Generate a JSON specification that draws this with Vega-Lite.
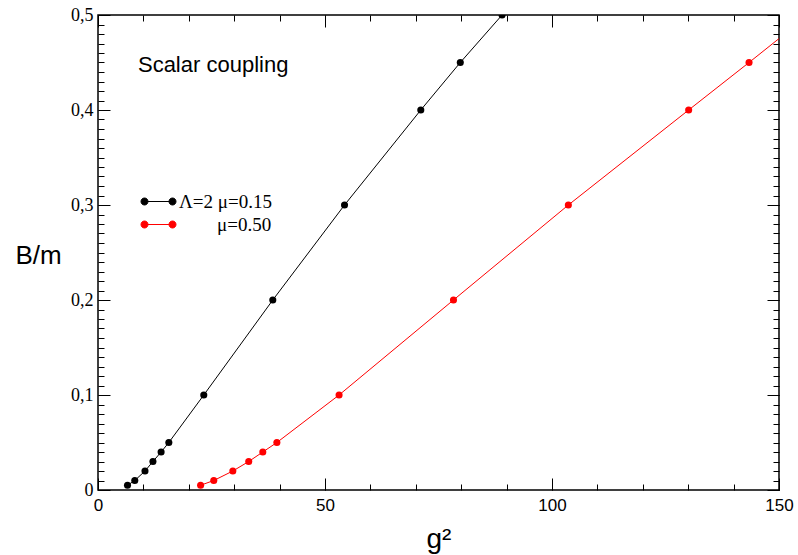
{
  "$schema": "https://vega.github.io/schema/vega-lite/v6.json",
  "autosize": "none",
  "width": 681,
  "height": 475,
  "padding": {"left": 98, "top": 15, "right": 19, "bottom": 65},
  "background": "white",
  "config": {
    "view": {"stroke": "black", "strokeWidth": 1.5},
    "axis": {"grid": false, "domain": false, "labelOverlap": false, "labelFlush": false, "tickColor": "black", "tickWidth": 1, "ticks": true, "labelColor": "black", "titleColor": "black"}
  },
  "data": {"values": [
    {"g2": 6.5, "B": 0.005, "series": "Λ=2 μ=0.15"},
    {"g2": 8.1, "B": 0.01, "series": "Λ=2 μ=0.15"},
    {"g2": 10.35, "B": 0.02, "series": "Λ=2 μ=0.15"},
    {"g2": 12.1, "B": 0.03, "series": "Λ=2 μ=0.15"},
    {"g2": 13.9, "B": 0.04, "series": "Λ=2 μ=0.15"},
    {"g2": 15.6, "B": 0.05, "series": "Λ=2 μ=0.15"},
    {"g2": 23.3, "B": 0.1, "series": "Λ=2 μ=0.15"},
    {"g2": 38.5, "B": 0.2, "series": "Λ=2 μ=0.15"},
    {"g2": 54.3, "B": 0.3, "series": "Λ=2 μ=0.15"},
    {"g2": 71.1, "B": 0.4, "series": "Λ=2 μ=0.15"},
    {"g2": 79.8, "B": 0.45, "series": "Λ=2 μ=0.15"},
    {"g2": 89.0, "B": 0.5, "series": "Λ=2 μ=0.15"},
    {"g2": 22.6, "B": 0.005, "series": "μ=0.50"},
    {"g2": 25.5, "B": 0.01, "series": "μ=0.50"},
    {"g2": 29.7, "B": 0.02, "series": "μ=0.50"},
    {"g2": 33.2, "B": 0.03, "series": "μ=0.50"},
    {"g2": 36.3, "B": 0.04, "series": "μ=0.50"},
    {"g2": 39.4, "B": 0.05, "series": "μ=0.50"},
    {"g2": 53.1, "B": 0.1, "series": "μ=0.50"},
    {"g2": 78.3, "B": 0.2, "series": "μ=0.50"},
    {"g2": 103.6, "B": 0.3, "series": "μ=0.50"},
    {"g2": 130.1, "B": 0.4, "series": "μ=0.50"},
    {"g2": 143.4, "B": 0.45, "series": "μ=0.50"},
    {"g2": 156.5, "B": 0.5, "series": "μ=0.50"}
  ]},
  "resolve": {"axis": {"x": "independent", "y": "independent"}},
  "layer": [
    {
      "mark": {"type": "line", "strokeWidth": 1, "clip": true},
      "encoding": {
        "x": {"field": "g2", "type": "quantitative",
          "scale": {"domain": [0, 150], "nice": false, "zero": false},
          "axis": {"orient": "bottom", "values": [0,50,100,150], "ticks": false,
            "labelFont": "Liberation Sans", "labelFontSize": 17, "labelPadding": 7,
            "title": "g²", "titleFont": "Liberation Sans", "titleFontSize": 28, "titleFontWeight": "normal",
            "titleBaseline": "alphabetic", "titleY": 57}},
        "y": {"field": "B", "type": "quantitative",
          "scale": {"domain": [0, 0.5], "nice": false, "zero": false},
          "axis": {"orient": "left", "values": [0,0.1,0.2,0.3,0.4,0.5], "ticks": false,
            "format": ".1~f",
            "labelExpr": "replace(datum.label, '.', ',')",
            "labelFont": "Liberation Serif", "labelFontSize": 18, "labelPadding": 5,
            "title": "B/m", "titleFont": "Liberation Sans", "titleFontSize": 26, "titleFontWeight": "normal",
            "titleAngle": 0, "titleAlign": "center", "titleBaseline": "alphabetic", "titleX": -60, "titleY": 248}},
        "color": {"field": "series", "type": "nominal",
          "scale": {"domain": ["Λ=2 μ=0.15", "μ=0.50"], "range": ["#000000", "#ff0000"]},
          "legend": {"title": null, "orient": "none", "legendX": 51, "legendY": 177, "padding": 0,
            "symbolType": "M-2,0L2,0M-2.5,0a0.5,0.5 0 1,0 1,0a0.5,0.5 0 1,0 -1,0M1.5,0a0.5,0.5 0 1,0 1,0a0.5,0.5 0 1,0 -1,0",
            "symbolSize": 196, "symbolStrokeWidth": 1, "symbolOpacity": 1,
            "labelOffset": 11, "labelFont": "Liberation Serif", "labelFontSize": 19, "labelColor": "black", "rowPadding": 3,
            "labelLimit": 300,
            "labelExpr": "datum.label == 'μ=0.50' ? '\u2060\u00a0\u00a0\u00a0\u00a0\u00a0\u00a0\u00a0\u00a0μ=0.50' : datum.label"}}
      }
    },
    {
      "mark": {"type": "point", "filled": true, "size": 50, "opacity": 1, "clip": true},
      "encoding": {
        "x": {"field": "g2", "type": "quantitative",
          "scale": {"domain": [0, 150], "nice": false, "zero": false},
          "axis": {"orient": "top", "offset": -475, "values": [0,10,20,30,40,50,60,70,80,90,100,110,120,130,140,150], "labels": false, "title": null, "tickSize": 6}},
        "y": {"field": "B", "type": "quantitative",
          "scale": {"domain": [0, 0.5], "nice": false, "zero": false},
          "axis": {"orient": "right", "offset": -681, "values": [0,0.01,0.02,0.03,0.04,0.05,0.06,0.07,0.08,0.09,0.1,0.11,0.12,0.13,0.14,0.15,0.16,0.17,0.18,0.19,0.2,0.21,0.22,0.23,0.24,0.25,0.26,0.27,0.28,0.29,0.3,0.31,0.32,0.33,0.34,0.35,0.36,0.37,0.38,0.39,0.4,0.41,0.42,0.43,0.44,0.45,0.46,0.47,0.48,0.49,0.5], "labels": false, "title": null, "tickSize": 6}},
        "color": {"field": "series", "type": "nominal",
          "scale": {"domain": ["Λ=2 μ=0.15", "μ=0.50"], "range": ["#000000", "#ff0000"]},
          "legend": {"title": null, "orient": "none", "legendX": 51, "legendY": 177, "padding": 0,
            "symbolType": "M-2,0L2,0M-2.5,0a0.5,0.5 0 1,0 1,0a0.5,0.5 0 1,0 -1,0M1.5,0a0.5,0.5 0 1,0 1,0a0.5,0.5 0 1,0 -1,0",
            "symbolSize": 196, "symbolStrokeWidth": 1, "symbolOpacity": 1,
            "labelOffset": 11, "labelFont": "Liberation Serif", "labelFontSize": 19, "labelColor": "black", "rowPadding": 3,
            "labelLimit": 300,
            "labelExpr": "datum.label == 'μ=0.50' ? '\u2060\u00a0\u00a0\u00a0\u00a0\u00a0\u00a0\u00a0\u00a0μ=0.50' : datum.label"}}
      }
    },
    {
      "mark": {"type": "point", "opacity": 0},
      "encoding": {
        "x": {"field": "g2", "type": "quantitative",
          "scale": {"domain": [0, 150], "nice": false, "zero": false},
          "axis": {"orient": "top", "offset": -475, "values": [0,50,100,150], "labels": false, "title": null, "tickSize": 12}},
        "y": {"field": "B", "type": "quantitative",
          "scale": {"domain": [0, 0.5], "nice": false, "zero": false},
          "axis": {"orient": "right", "offset": -681, "values": [0,0.1,0.2,0.3,0.4,0.5], "labels": false, "title": null, "tickSize": 12}}
      }
    },
    {
      "mark": {"type": "point", "opacity": 0},
      "encoding": {
        "x": {"field": "g2", "type": "quantitative",
          "scale": {"domain": [0, 150], "nice": false, "zero": false},
          "axis": {"orient": "bottom", "offset": -475, "values": [0,10,20,30,40,50,60,70,80,90,100,110,120,130,140,150], "labels": false, "title": null, "tickSize": 6}},
        "y": {"field": "B", "type": "quantitative",
          "scale": {"domain": [0, 0.5], "nice": false, "zero": false},
          "axis": {"orient": "left", "offset": -681, "values": [0,0.01,0.02,0.03,0.04,0.05,0.06,0.07,0.08,0.09,0.1,0.11,0.12,0.13,0.14,0.15,0.16,0.17,0.18,0.19,0.2,0.21,0.22,0.23,0.24,0.25,0.26,0.27,0.28,0.29,0.3,0.31,0.32,0.33,0.34,0.35,0.36,0.37,0.38,0.39,0.4,0.41,0.42,0.43,0.44,0.45,0.46,0.47,0.48,0.49,0.5], "labels": false, "title": null, "tickSize": 6}}
      }
    },
    {
      "mark": {"type": "point", "opacity": 0},
      "encoding": {
        "x": {"field": "g2", "type": "quantitative",
          "scale": {"domain": [0, 150], "nice": false, "zero": false},
          "axis": {"orient": "bottom", "offset": -475, "values": [0,50,100,150], "labels": false, "title": null, "tickSize": 12}},
        "y": {"field": "B", "type": "quantitative",
          "scale": {"domain": [0, 0.5], "nice": false, "zero": false},
          "axis": {"orient": "left", "offset": -681, "values": [0,0.1,0.2,0.3,0.4,0.5], "labels": false, "title": null, "tickSize": 12}}
      }
    },
    {
      "data": {"values": [{}]},
      "mark": {"type": "text", "align": "left", "baseline": "alphabetic", "font": "Liberation Sans", "fontSize": 22, "color": "black"},
      "encoding": {
        "x": {"datum": 8.8, "type": "quantitative", "scale": {"domain": [0, 150], "nice": false, "zero": false}, "axis": null},
        "y": {"datum": 0.4395, "type": "quantitative", "scale": {"domain": [0, 0.5], "nice": false, "zero": false}, "axis": null},
        "text": {"value": "Scalar coupling"}
      }
    }
  ]
}
